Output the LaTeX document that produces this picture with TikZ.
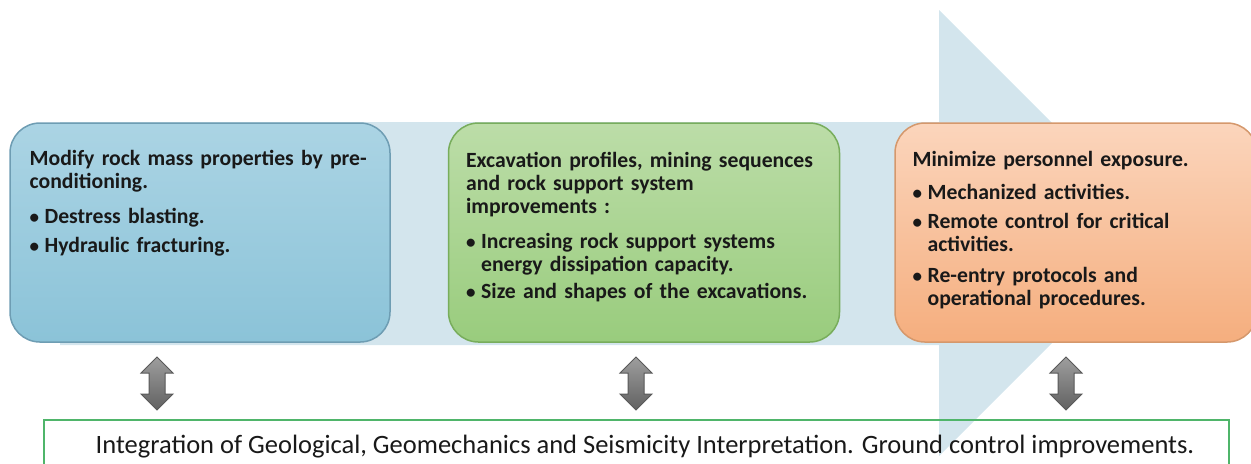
\documentclass[tikz,border=0pt]{standalone}
\usepackage{fontspec}
\setmainfont{Carlito}
\usepackage{tikz}
\usetikzlibrary{positioning}

\definecolor{bandblue}{HTML}{D3E5ED}
\definecolor{blueTop}{HTML}{ABD4E4}
\definecolor{blueBot}{HTML}{8BC3D8}
\definecolor{blueLine}{HTML}{6E9DB3}
\definecolor{greenTop}{HTML}{BCDDA8}
\definecolor{greenBot}{HTML}{99CC7D}
\definecolor{greenLine}{HTML}{78AD5C}
\definecolor{orangeTop}{HTML}{FBD5BC}
\definecolor{orangeBot}{HTML}{F5AE7E}
\definecolor{orangeLine}{HTML}{D5986C}
\definecolor{frameGreen}{HTML}{4FB56A}

% bullet line with hanging indent, optional gap above
\newcommand{\bpoint}[2][3pt]{\par\vspace{#1}\noindent
  \makebox[7.5pt][l]{\fontsize{9.5}{9.5}\selectfont\textbullet}%
  \parbox[t]{178pt}{\raggedright #2\strut}}

\begin{document}
\begin{tikzpicture}[
  x=0.5pt, y=-0.5pt,
  node distance=0pt and 28.5pt,
  box/.style={draw, rounded corners=15pt, line width=0.75pt, minimum height=109.5pt, inner sep=0pt},
  boxtext/.style={align=left, inner sep=0pt, anchor=north west, text=black!90,
    font=\bfseries\fontsize{10.85}{11.5}\selectfont},
  updown/.pic={
    \path[draw=black!65, line width=0.5pt, top color=black!38, bottom color=black!62]
      (0,-26.5) -- (16,-10.5) -- (8,-10.5) -- (8,10.5) -- (16,10.5) -- (0,26.5)
      -- (-16,10.5) -- (-8,10.5) -- (-8,-10.5) -- (-16,-10.5) -- cycle;
  }
]
\useasboundingbox (0,0) rectangle (1251,463);

% flow band behind the three stages
\fill[bandblue] (60,122) -- (939,122) -- (939,10) -- (1162,233) -- (939,456) -- (939,345) -- (60,345) -- cycle;

% stages
\node[box, minimum width=190pt, draw=blueLine, top color=blueTop, bottom color=blueBot] (precond) at (200,232.5) {};
\node[box, minimum width=195.5pt, draw=greenLine, top color=greenTop, bottom color=greenBot, right=of precond] (excav) {};
\node[box, minimum width=181pt, draw=orangeLine, top color=orangeTop, bottom color=orangeBot, right=27pt of excav] (exposure) {};

\node[boxtext, text width=180pt] (precondtext) at ([xshift=10pt, yshift=-14pt]precond.north west) {
Modify rock mass properties by pre-\\conditioning.
\bpoint[6pt]{Destress blasting.}
\bpoint{Hydraulic fracturing.}
};
\node[boxtext, text width=185pt] (excavtext) at ([xshift=9pt, yshift=-15pt]excav.north west) {
Excavation profiles, mining sequences\\and rock support system\\improvements :
\bpoint[6pt]{Increasing rock support systems\\energy dissipation capacity.}
\bpoint[1pt]{Size and shapes of the excavations.}
};
\node[boxtext, text width=170pt] (exposuretext) at ([xshift=9pt, yshift=-14.5pt]exposure.north west) {
Minimize personnel exposure.
\bpoint[5pt]{Mechanized activities.}
\bpoint{Remote control for critical\\activities.}
\bpoint{Re-entry protocols and\\operational procedures.}
};

% common ground
\node[draw=frameGreen, line width=1pt, minimum width=592.5pt, minimum height=27pt, inner sep=0pt,
  font=\fontsize{13.25}{15}\selectfont, text=black!90] (integr) at (636.5,447)
  {\hspace*{8.5pt}Integration of Geological, Geomechanics and Seismicity Interpretation. Ground control improvements.};

% two-way links
\pic (link1) at (157,383.5) {updown};
\pic (link2) at (636,383.5) {updown};
\pic (link3) at (1066,383.5) {updown};
\end{tikzpicture}
\end{document}
